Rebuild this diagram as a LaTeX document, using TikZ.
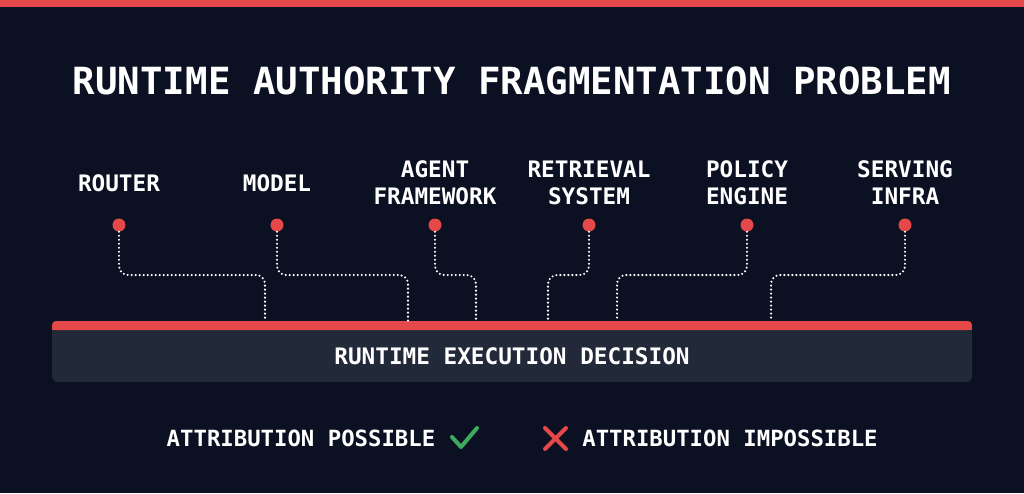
\documentclass[tikz,border=0pt]{standalone}
\usepackage{fontspec}
\setmonofont{DejaVu Sans Mono}
\usetikzlibrary{arrows.meta}
\definecolor{bgnavy}{HTML}{0B1122}
\definecolor{alertred}{HTML}{E54848}
\definecolor{barslate}{HTML}{222A3A}
\definecolor{okgreen}{HTML}{3DAA5E}
\tikzset{
  layer/.style={font=\ttfamily\bfseries\fontsize{22.7}{27}\selectfont,text=white,align=center,inner sep=0pt},
  dot/.style={circle,fill=alertred,minimum size=13pt,inner sep=0pt},
  link/.style={white,line width=2.3pt,dash pattern=on 0pt off 4pt,line cap=round,rounded corners=9pt}
}

\begin{document}
\begin{tikzpicture}[x=1pt,y=-1pt]
  \fill[bgnavy] (0,0) rectangle (1024,493);
  \useasboundingbox (0,0) rectangle (1024,493);
  \fill[alertred] (0,0) rectangle (1024,7);
  \node[font=\ttfamily\bfseries\fontsize{37.4}{44}\selectfont,text=white,inner sep=0pt] (title) at (512,81) {RUNTIME AUTHORITY FRAGMENTATION PROBLEM};
  % sources
  \node[layer] (router) at (119,183) {ROUTER};
  \node[layer] (model) at (277,183) {MODEL};
  \node[layer] (agent) at (435,183) {AGENT\\FRAMEWORK};
  \node[layer] (retr) at (589,183) {RETRIEVAL\\SYSTEM};
  \node[layer] (policy) at (747,183) {POLICY\\ENGINE};
  \node[layer] (serve) at (905,183) {SERVING\\INFRA};
  \node[dot] (d1) at (119,225) {};
  \node[dot] (d2) at (277,225) {};
  \node[dot] (d3) at (435,225) {};
  \node[dot] (d4) at (589,225) {};
  \node[dot] (d5) at (747,225) {};
  \node[dot] (d6) at (905,225) {};
  % decision bar
  \fill[barslate,rounded corners=6pt] (52,321) rectangle (972,382);
  \fill[alertred,rounded corners=4pt] (52,321) rectangle (972,330);
  \fill[alertred] (52,326) rectangle (972,330);
  \node[layer] (decision) at (512,356) {RUNTIME EXECUTION DECISION};
  \coordinate (mid) at (0,275);
  \coordinate (in1) at (265,321);
  \coordinate (in2) at (408,321);
  \coordinate (in3) at (476,321);
  \coordinate (in4) at (548,321);
  \coordinate (in5) at (617,321);
  \coordinate (in6) at (771,321);
  \foreach \i in {1,...,6}
    \draw[link] (d\i.south) |- (in\i |- mid) -- (in\i);
  % legend
  \node[layer,font=\ttfamily\bfseries\fontsize{22.3}{27}\selectfont] (poss) at (301,438) {ATTRIBUTION POSSIBLE};
  \node[layer,font=\ttfamily\bfseries\fontsize{22.3}{27}\selectfont] (imposs) at (730,438) {ATTRIBUTION IMPOSSIBLE};
  \draw[okgreen,line width=4pt,line cap=round,line join=round] (452,437) -- (461,447) -- (477,428);
  \draw[alertred,line width=4pt,line cap=round] (545,428) -- (566,449) (566,428) -- (545,449);
\end{tikzpicture}
\end{document}
